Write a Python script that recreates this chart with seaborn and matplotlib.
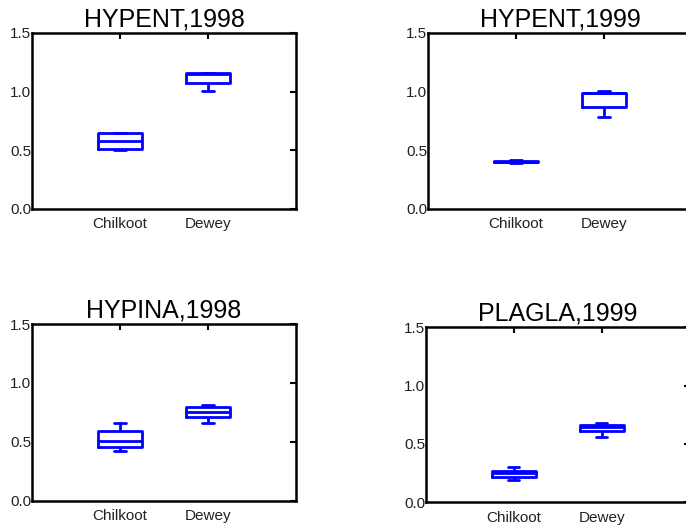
import numpy as np
import pandas as pd
import matplotlib
matplotlib.use("Agg")
import matplotlib.pyplot as plt
import seaborn as sns

sns.set_style("white")
plt.rcParams['font.family'] = ['Liberation Sans', 'DejaVu Sans']

sites = ["Chilkoot", "Dewey"]
titles = ["HYPENT,1998", "HYPENT,1999", "HYPINA,1998", "PLAGLA,1999"]
yticks = [0.0, 0.5, 1.0, 1.5]
ytick_labels = ["0.0", "0.5", "1.0", "1.5"]

# five values per group: min, q1, median, q3, max
hypent98_chilkoot = [0.503, 0.514, 0.577, 0.650, 0.650]
hypent98_dewey = [1.008, 1.070, 1.147, 1.163, 1.163]
hypent99_chilkoot = [0.390, 0.398, 0.402, 0.406, 0.418]
hypent99_dewey = [0.786, 0.871, 0.985, 0.987, 1.004]
hypina98_chilkoot = [0.424, 0.458, 0.509, 0.594, 0.662]
hypina98_dewey = [0.660, 0.711, 0.756, 0.795, 0.812]
plagla99_chilkoot = [0.191, 0.219, 0.248, 0.268, 0.302]
plagla99_dewey = [0.562, 0.611, 0.643, 0.663, 0.680]

panels = [
    (hypent98_chilkoot, hypent98_dewey),
    (hypent99_chilkoot, hypent99_dewey),
    (hypina98_chilkoot, hypina98_dewey),
    (plagla99_chilkoot, plagla99_dewey),
]

W, H = 686, 529
fig = plt.figure(figsize=(W / 100, H / 100), dpi=100)

# axes rectangles in pixels: left, top, right, bottom
rects = [
    (32, 33, 296, 209),
    (428, 33, 692, 209),
    (32, 324, 296, 500.7),
    (425.7, 327.3, 689.7, 502.3),
]

blue = "#0000ff"
for (l, t, r, b), title, (c_vals, d_vals) in zip(rects, titles, panels):
    ax = fig.add_axes([l / W, 1 - b / H, (r - l) / W, (b - t) / H])
    df = pd.DataFrame({
        "site": [sites[0]] * len(c_vals) + [sites[1]] * len(d_vals),
        "value": list(c_vals) + list(d_vals),
    })
    sns.boxplot(data=df, x="site", y="value", order=sites, ax=ax,
                fill=False, color=blue, width=0.5, whis=(0, 100),
                linewidth=2.0, capwidths=0.13, showfliers=False)
    ax.set_xlim(-1, 2)
    ax.set_ylim(0, 1.5)
    ax.set_yticks(yticks)
    ax.set_yticklabels(ytick_labels)
    ax.set_xlabel("")
    ax.set_ylabel("")
    ax.set_title(title, fontsize=18, pad=5, color="black")
    for s in ax.spines.values():
        s.set_visible(True)
        s.set_linewidth(1.8)
        s.set_color("black")
    ax.tick_params(axis="both", direction="in", length=4, width=1.5,
                   color="black", labelsize=11, labelcolor="#222222",
                   top=True, right=True)
    ax.tick_params(axis="x", pad=6)
    ax.tick_params(axis="y", pad=0.5)
    ax.grid(False)

fig.savefig("out.png", dpi=100)
